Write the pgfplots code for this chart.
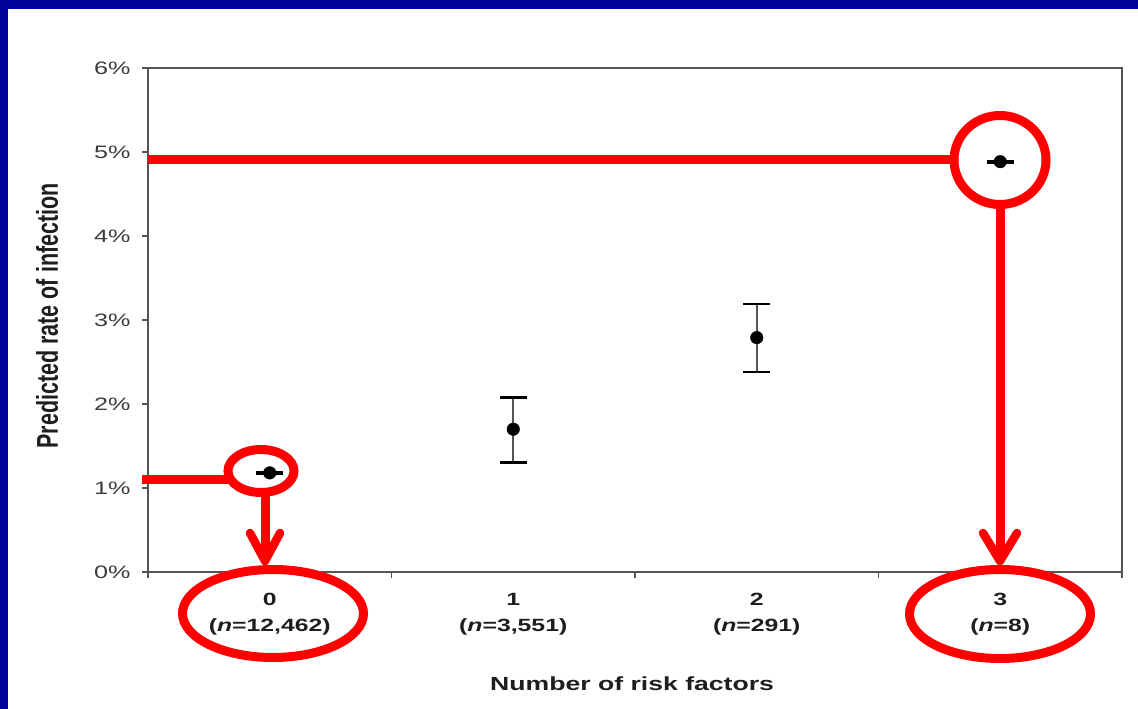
\documentclass[border=0pt]{standalone}
\usepackage{graphicx}
\usepackage{pgfplots}
\pgfplotsset{compat=1.18}
\usepackage{fontspec}
\setmainfont{Liberation Sans}[FakeStretch=1.4]
\newfontfamily\ylabfont{Liberation Sans}
\definecolor{navy}{RGB}{0,0,155}
\definecolor{axgray}{RGB}{85,85,85}
\definecolor{tickgray}{RGB}{60,60,60}
\definecolor{annred}{RGB}{255,0,0}
\definecolor{txt}{RGB}{30,30,30}

\pgfplotstableread{
x y ep em
0 1.18 0.01 0.01
1 1.70 0.38 0.40
2 2.79 0.40 0.41
3 4.885 0.01 0.01
}\ratetable

\begin{document}
\begin{tikzpicture}
\useasboundingbox (0,0) rectangle (1138pt,709pt);
\fill[navy] (0,0) rectangle (1138pt,709pt);
\fill[white] (7.5pt,0) rectangle (1138pt,699.5pt);
\begin{axis}[
  at={(148pt,137pt)}, anchor=south west,
  width=974pt, height=504pt, scale only axis,
  xmin=-0.5, xmax=3.5, ymin=0, ymax=6,
  xtick={0,1,2,3},
  xticklabels={{0\\(\textit{n}=12,462)},{1\\(\textit{n}=3,551)},{2\\(\textit{n}=291)},{3\\(\textit{n}=8)}},
  minor xtick={-0.5,0.5,1.5,2.5,3.5},
  ytick={0,1,2,3,4,5,6},
  yticklabels={0\%,1\%,2\%,3\%,4\%,5\%,6\%},
  tick align=outside, xtick pos=bottom, ytick pos=left,
  major tick length=6pt, minor tick length=6pt,
  major x tick style={draw=none},
  tick style={draw=axgray, line width=1.5pt},
  axis line style={draw=axgray, line width=1.8pt},
  xticklabel style={align=center, font=\fontsize{17.7}{26}\selectfont\bfseries, text=txt, yshift=-12pt},
  yticklabel style={font=\fontsize{18}{20}\selectfont, text=tickgray, xshift=-8pt},
  every axis x label/.style={at={(axis description cs:0.497,-0.236)}, anchor=base},
  every axis y label/.style={at={(axis description cs:-0.0924,0.508)}, rotate=90, anchor=base},
  xlabel={\fontsize{19}{22}\selectfont\bfseries\color{txt}Number of risk factors},
  ylabel={\ylabfont\fontsize{21.5}{24}\selectfont\bfseries\color{txt}\scalebox{1}[1.4]{Predicted rate of infection}},
  clip=false,
]
\addplot[only marks, mark=*, mark size=6.3pt, black,
  error bars/.cd, y dir=both, y explicit,
  error bar style={line width=2.4pt, draw=axgray},
  error mark options={rotate=90, mark size=13.5pt, line width=2.6pt, black}]
  table[x=x, y=y, y error plus=ep, y error minus=em] {\ratetable};
\end{axis}
\begin{scope}[shift={(0pt,709pt)}, x=1pt, y=-1pt, draw=annred, line width=9pt]
  \draw (142,480) -- (229,480);
  \draw (261,471) ellipse [x radius=33, y radius=21.5];
  \draw (265,492) -- (265,560);
  \draw[line join=round, line cap=round, line width=8.5pt] (250,533) -- (265,561) -- (280,533);
  \draw (273,613.5) ellipse [x radius=90.5, y radius=44];
  \draw (148,160) -- (955,160);
  \draw (1000,160) ellipse [x radius=46, y radius=44.5];
  \draw (1000,205) -- (1000,560);
  \draw[line join=round, line cap=round, line width=8.5pt] (983,533) -- (1000,561) -- (1017,533);
  \draw (1000,614) ellipse [x radius=90.5, y radius=44.5];
\end{scope}
\end{tikzpicture}
\end{document}
